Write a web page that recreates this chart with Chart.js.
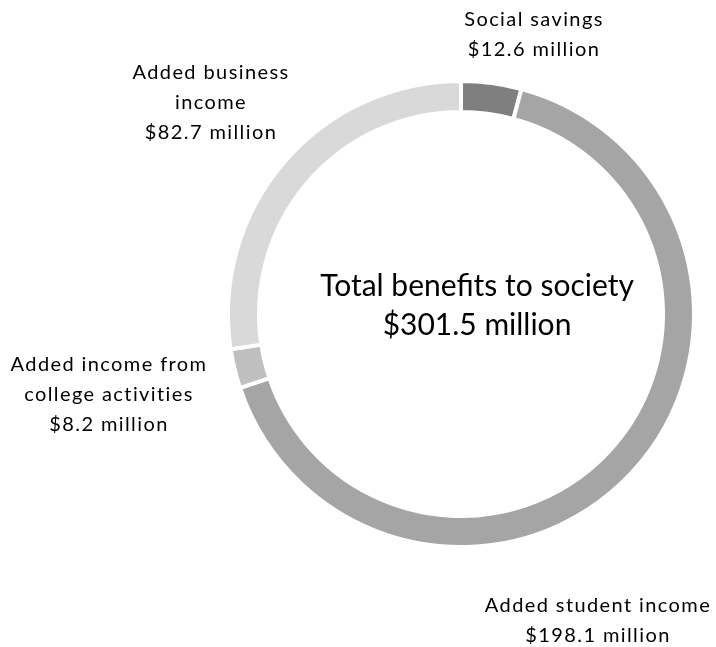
<!DOCTYPE html>
<html>
<head>
<meta charset="utf-8">
<script src="https://cdn.jsdelivr.net/npm/chart.js@4"></script>
<style>
  html, body { margin: 0; padding: 0; background: #fff; }
  #wrap { width: 716px; height: 647px; }
</style>
</head>
<body>
<div id="wrap"><canvas id="c" width="716" height="647"></canvas></div>
<script>
// 数据
const categories = ['Social savings', 'Added student income', 'Added income from college activities', 'Added business income'];
const values = [12.6, 198.1, 8.2, 82.7];
const colors = ['#7f7f7f', '#a5a5a5', '#bfbfbf', '#d9d9d9'];
// 标签文字（多行）
const labelLines = [
    ['Social savings', '$12.6 million'],
    ['Added student income', '$198.1 million'],
    ['Added income from', 'college activities', '$8.2 million'],
    ['Added business', 'income', '$82.7 million']
];
const centerLines = ['Total benefits to society', '$301.5 million'];

// 标签相对圆心的偏移
const labelOffsets = [
    { dx: 73, dy: -294 },
    { dx: 137, dy: 292 },
    { dx: -352, dy: 51 },
    { dx: -250, dy: -241 }
];

const labelPlugin = {
    id: 'labels',
    afterDraw(chart) {
        const ctx = chart.ctx;
        const arc = chart.getDatasetMeta(0).data[0];
        const cx = arc.x, cy = arc.y;
        ctx.save();
        ctx.fillStyle = '#000';
        ctx.textAlign = 'center';
        ctx.textBaseline = 'middle';

        // 外部标签
        ctx.font = '20px Lato';
        ctx.letterSpacing = '1.4px';
        labelLines.forEach((lines, i) => {
            const off = labelOffsets[i];
            lines.forEach((t, j) => {
                ctx.fillText(t, cx + off.dx, cy + off.dy + j * 30);
            });
        });

        // 中心文字
        ctx.font = '30px Lato';
        ctx.letterSpacing = '0px';
        ctx.fillText(centerLines[0], cx + 16, cy - 28);
        ctx.fillText(centerLines[1], cx + 16, cy + 11);
        ctx.restore();
    }
};

new Chart(document.getElementById('c'), {
    type: 'doughnut',
    data: {
        labels: categories,
        datasets: [{
            data: values,
            backgroundColor: colors,
            borderColor: '#ffffff',
            borderWidth: 4,
            hoverOffset: 0
        }]
    },
    options: {
        responsive: false,
        animation: false,
        cutout: '86.7%',
        layout: { padding: { left: 226, right: 20, top: 79, bottom: 98 } },
        plugins: {
            legend: { display: false },
            tooltip: { enabled: false }
        }
    },
    plugins: [labelPlugin]
});
</script>
</body>
</html>
